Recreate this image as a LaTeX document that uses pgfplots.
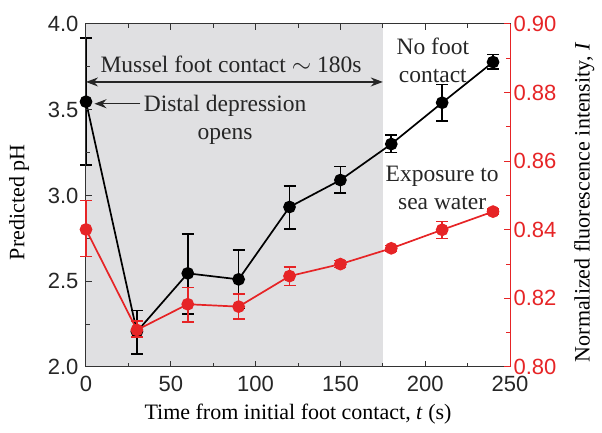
\documentclass[border=0pt]{standalone}
\usepackage{pgfplots}
\pgfplotsset{compat=1.18}
\usepackage{pgfplotstable}
\usepackage{fontspec}
\setmainfont{Liberation Serif}
\setsansfont{Liberation Sans}
\usetikzlibrary{arrows.meta}
\definecolor{myred}{RGB}{230,36,38}
\definecolor{shade}{RGB}{224,224,226}
\pgfplotstableread{
t y ep em
0 3.547 0.373 0.369
30 2.206 0.124 0.130
60 2.546 0.230 0.236
90 2.511 0.170 0.170
120 2.933 0.122 0.128
150 3.090 0.078 0.077
180 3.300 0.053 0.050
210 3.541 0.107 0.107
240 3.778 0.045 0.042
}\phdata
\pgfplotstableread{
t y ep em
0 0.8401 0.0084 0.0079
30 0.8108 0.0026 0.0021
60 0.8183 0.0049 0.0051
90 0.8176 0.0036 0.0036
120 0.8265 0.0027 0.0027
150 0.8300 0.0010 0.0010
180 0.8346 0.0008 0.0008
210 0.8400 0.0024 0.0025
240 0.8453 0.0007 0.0007
}\fldata
\newcommand\annfont{\fontsize{23.5}{28}\selectfont}
\begin{document}
\fontsize{22}{26}\selectfont
\begin{tikzpicture}
\useasboundingbox (-86pt,-66pt) rectangle (516pt,367pt);
\begin{axis}[
  scale only axis, width=424pt, height=343pt,
  xmin=0, xmax=250, ymin=2, ymax=4,
  xtick={0,50,...,250}, minor xtick={25,75,...,225},
  ytick={2,2.5,...,4}, minor ytick={2.25,2.75,...,3.75},
  xtick pos=both, ytick pos=left,
  tick align=inside, major tick length=6pt, minor tick length=4pt,
  axis line style={line width=1pt, black!80},
  every tick/.style={line width=1pt, black!80},
  ticklabel style={font=\fontsize{22}{26}\sffamily, text=black!85},
  xticklabel style={yshift=-2pt},
  /pgf/number format/assume math mode=true,
  yticklabel style={/pgf/number format/.cd, fixed, fixed zerofill, precision=1},
  xlabel={Time from initial foot contact, \textit{t} (s)},
  ylabel={Predicted pH},
  label style={font=\fontsize{22}{26}\selectfont, text=black!85},
  every axis x label/.style={at={(axis description cs:0.5,-0.138)}, anchor=center},
  every axis y label/.style={at={(axis description cs:-0.158,0.48)}, rotate=90, anchor=center},
  axis on top,
  clip=false,
]
\addplot[fill=shade, draw=none, forget plot] coordinates {(0,2) (175,2) (175,4) (0,4)} -- cycle;
\addplot[black, line width=1.7pt, mark=*, mark size=5.5pt,
  error bars/.cd, y dir=both, y explicit,
  error bar style={line width=1.6pt}, error mark options={rotate=90, mark size=6pt, line width=1.6pt}]
  table[x=t, y=y, y error plus=ep, y error minus=em] {\phdata};
\draw[{Stealth[length=12pt,width=9pt]}-{Stealth[length=12pt,width=9pt]}, line width=1.1pt, black!85] (axis cs:0,3.662) -- (axis cs:175,3.662);
\node[black!85, anchor=base, font=\annfont] at (axis cs:85.5,3.716) {Mussel foot contact $\sim$ 180s};
\draw[-{Stealth[length=12pt,width=9pt]}, line width=1.1pt, black!85] (axis cs:32,3.535) -- (axis cs:5,3.535);
\node[black!85, align=center, anchor=center, inner sep=0pt, font=\annfont] at (axis cs:82,3.44) {Distal depression\\opens};
\node[black!85, align=center, anchor=center, inner sep=0pt, font=\annfont] at (axis cs:204.5,3.79) {No foot\\contact};
\node[black!85, align=center, anchor=center, inner sep=0pt, font=\annfont] at (axis cs:210,3.045) {Exposure to\\sea water};
\end{axis}
\begin{axis}[
  scale only axis, width=424pt, height=343pt,
  xmin=0, xmax=250, ymin=0.8, ymax=0.9,
  axis x line=none, axis y line*=right,
  ytick={0.80,0.82,...,0.90}, minor ytick={0.81,0.83,...,0.89},
  tick align=inside, major tick length=6pt, minor tick length=4pt,
  axis line style={line width=1pt, myred, -},
  every tick/.style={line width=1pt, myred},
  ticklabel style={font=\fontsize{22}{26}\sffamily, text=myred},
  yticklabel style={xshift=-4pt},
  /pgf/number format/assume math mode=true,
  yticklabel style={/pgf/number format/.cd, fixed, fixed zerofill, precision=2},
  ylabel={Normalized fluorescence intensity, \textit{I}},
  label style={font=\fontsize{22}{26}\selectfont, text=myred},
  every axis y label/.style={at={(axis description cs:1.175,0.48)}, rotate=90, anchor=center},
  clip=false,
]
\addplot[myred, line width=1.7pt, mark=*, mark size=5.5pt,
  error bars/.cd, y dir=both, y explicit,
  error bar style={line width=1.6pt, myred}, error mark options={rotate=90, mark size=6pt, line width=1.6pt, myred}]
  table[x=t, y=y, y error plus=ep, y error minus=em] {\fldata};
\end{axis}
\end{tikzpicture}
\end{document}
